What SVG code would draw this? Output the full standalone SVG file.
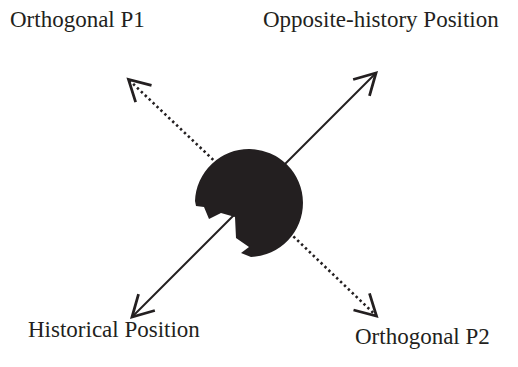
<svg xmlns="http://www.w3.org/2000/svg" width="518" height="367" viewBox="0 0 518 367">
<style>
text{font-family:'Liberation Serif','Times New Roman',Times,'DejaVu Serif',serif;font-size:23px;fill:#231f20}
.solid{stroke:#231f20;stroke-width:2;fill:none}
.dot{stroke:#231f20;stroke-width:2.6;fill:none;stroke-dasharray:2.4 3}
.blob{fill:#231f20}
</style>
<defs>
<marker id="head" markerUnits="userSpaceOnUse" markerWidth="30" markerHeight="30" viewBox="-22 -13 26 26" refX="0" refY="0" orient="auto" overflow="visible">
<path d="M-18,-10 L0,0 L-18,10" fill="none" stroke="#231f20" stroke-width="2.4" stroke-dasharray="none" stroke-linejoin="miter"/>
</marker>
</defs>
<rect width="518" height="367" fill="#ffffff"/>
<g id="connectors">
<line class="solid" x1="260" y1="189" x2="376" y2="73" marker-end="url(#head)"/>
<line class="solid" x1="245" y1="204" x2="132" y2="317" marker-end="url(#head)"/>
<line class="dot" x1="225" y1="171" x2="128.5" y2="79.5" marker-end="url(#head)"/>
<line class="dot" x1="270" y1="214" x2="376.5" y2="316" marker-end="url(#head)"/>
</g>
<g id="center">
<path class="blob" d="M195,201 A54,54 0 1 1 251,257 L241,253 L249,247 L236,238 L235,217 L221,213 L209,219 L204,207 L196,206 Z"/>
</g>
<g id="orthogonal-p1"><text x="10" y="27" font-family="Liberation Serif, serif">Orthogonal P1</text></g>
<g id="opposite-history"><text x="263" y="27" font-family="Liberation Serif, serif">Opposite-history Position</text></g>
<g id="historical"><text x="28" y="337" font-family="Liberation Serif, serif">Historical Position</text></g>
<g id="orthogonal-p2"><text x="355" y="344" font-family="Liberation Serif, serif">Orthogonal P2</text></g>
</svg>
